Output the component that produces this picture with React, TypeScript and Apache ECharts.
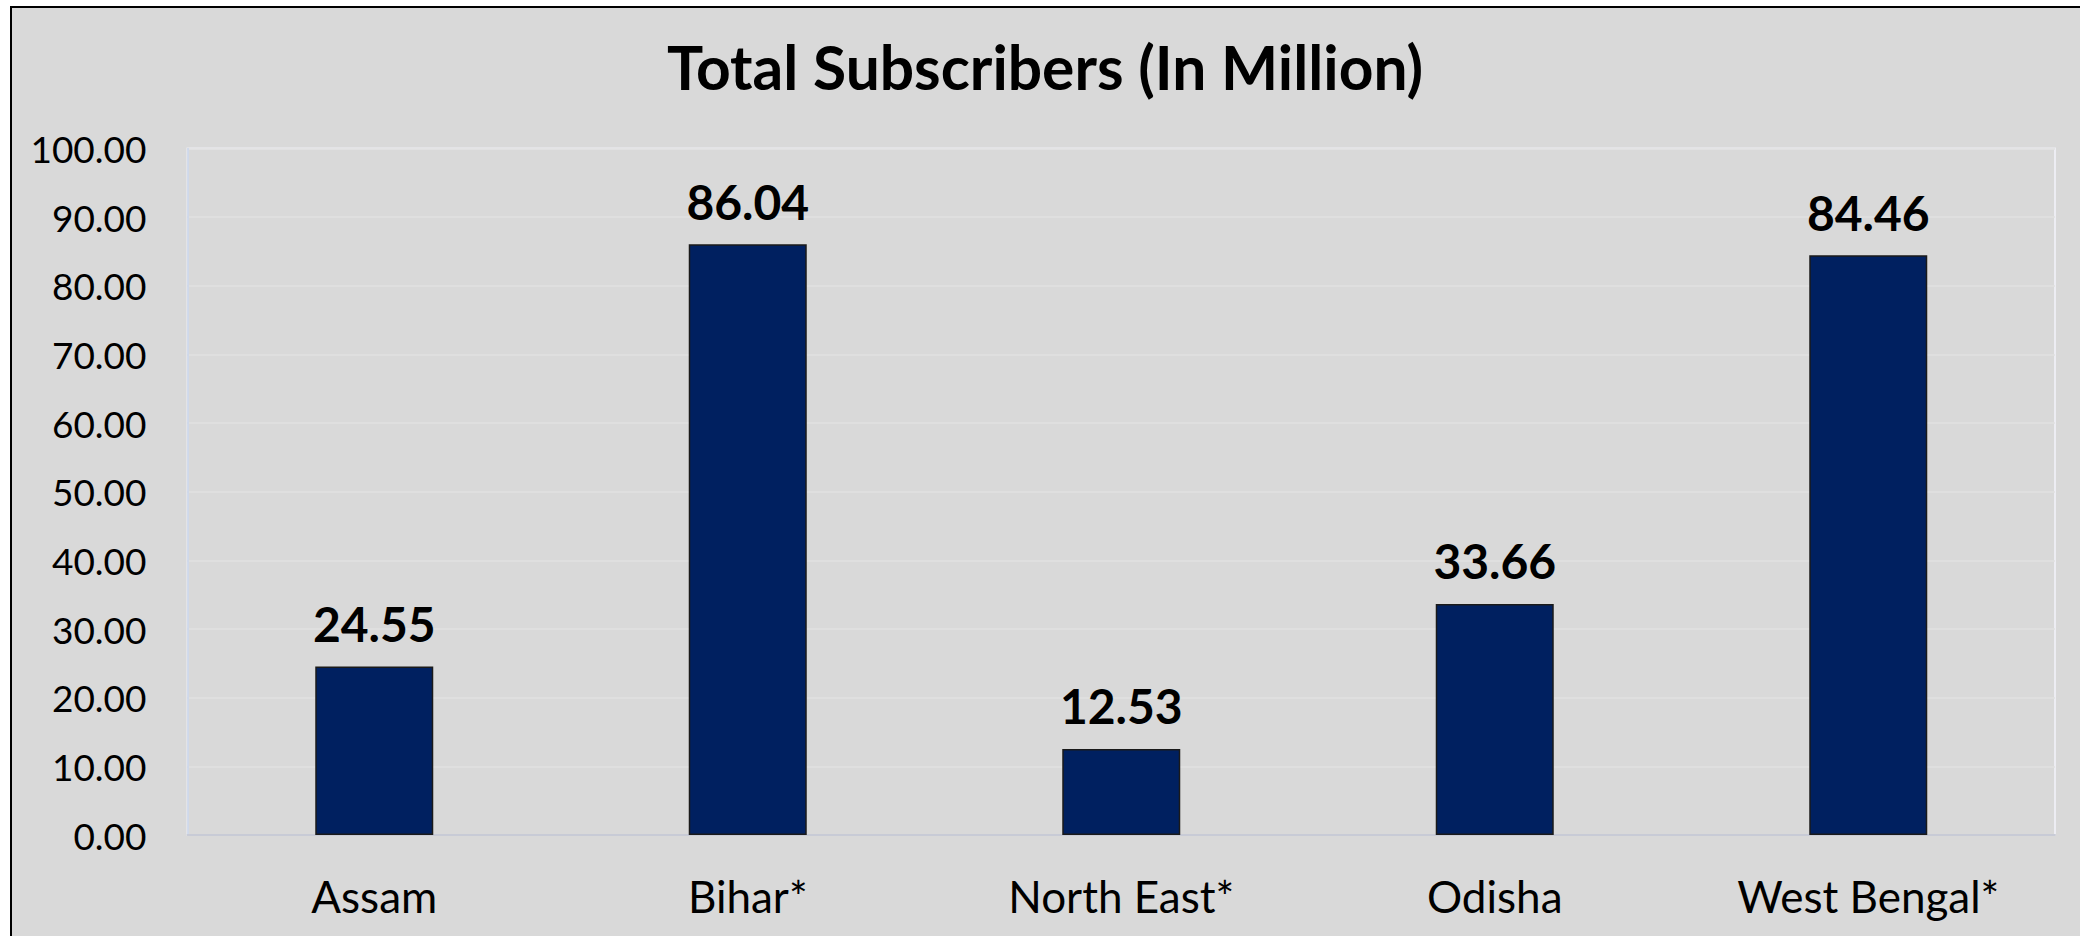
import React, { useEffect, useRef } from "react";
import * as echarts from "echarts";

const categories = ["Assam", "Bihar*", "North East*", "Odisha", "West Bengal*"];
const subscribers = [24.55, 86.04, 12.53, 33.66, 84.46];
const titleText = "Total Subscribers (In Million)";
const yMin = 0;
const yMax = 100;
const yStep = 10;

export default function App() {
  const ref = useRef<HTMLDivElement>(null);
  useEffect(() => {
    if (!ref.current) return;
    const chart = echarts.init(ref.current, undefined, { renderer: "svg" });
    chart.setOption({
      animation: false,
      backgroundColor: "#d9d9d9",
      textStyle: { fontFamily: "Lato" },
      title: {
        text: titleText,
        left: "center",
        top: 25,
        textStyle: { fontFamily: "Lato", fontWeight: "bold", fontSize: 60.5, color: "#000" },
      },
      graphic: [
        { type: "line", shape: { x1: 1, y1: 0, x2: 1, y2: 930 }, style: { stroke: "#000", lineWidth: 2 } },
        { type: "line", shape: { x1: 0, y1: 1, x2: 2070, y2: 1 }, style: { stroke: "#000", lineWidth: 2 } },
      ],
      grid: {
        left: 177.5,
        top: 142.5,
        width: 1867.5,
        height: 686.5,
        show: true,
        borderColor: "#ededf3",
        borderWidth: 2,
        backgroundColor: "transparent",
      },
      xAxis: {
        type: "category",
        data: categories,
        axisLine: { show: true, lineStyle: { color: "#c8cbd6", width: 2 } },
        axisTick: { show: false },
        axisLabel: { color: "#000", fontSize: 44, margin: 39, fontFamily: "Lato" },
      },
      yAxis: {
        type: "value",
        min: yMin,
        max: yMax,
        interval: yStep,
        axisLine: { show: true, lineStyle: { color: "#c9d5ea", width: 1.5 } },
        axisTick: { show: false },
        splitLine: { show: true, lineStyle: { color: "#e0e0e0", width: 1.5 } },
        axisLabel: {
          color: "#000",
          fontSize: 37,
          margin: 41,
          fontFamily: "Lato",
          formatter: (v: number) => v.toFixed(2),
        },
      },
      series: [
        {
          type: "bar",
          data: subscribers,
          barWidth: 118,
          itemStyle: { color: "#002060", borderColor: "#1a1a1a", borderWidth: 1.5 },
          label: {
            show: true,
            position: "top",
            distance: 19,
            color: "#000",
            fontSize: 48,
            fontWeight: "bold",
            fontFamily: "Lato",
            formatter: (p: any) => Number(p.value).toFixed(2),
          },
        },
      ],
    });
    return () => chart.dispose();
  }, []);
  return (
    <div
      ref={ref}
      style={{ position: "absolute", left: 10, top: 6, width: 2070, height: 930 }}
    />
  );
}
